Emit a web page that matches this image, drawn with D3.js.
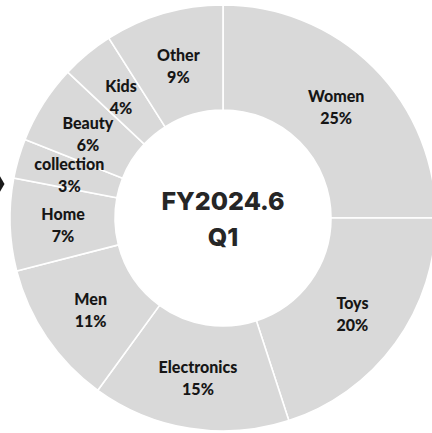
<!DOCTYPE html>
<html>
<head>
<meta charset="utf-8">
<script src="https://cdn.jsdelivr.net/npm/d3@7"></script>
<style>
  html, body { margin: 0; padding: 0; background: #ffffff; overflow: hidden; }
  svg { display: block; }
</style>
</head>
<body>
<svg id="chart" width="432" height="433"></svg>
<script>
// Category share of sales, clockwise from 12 o'clock
const categories = ["Women", "Toys", "Electronics", "Men", "Home", "collection", "Beauty", "Kids", "Other"];
const shares = [25, 20, 15, 11, 7, 3, 6, 4, 9];
const centerLines = ["FY2024.6", "Q1"];

const svg = d3.select("#chart");
const cx = 223, cy = 218;
const innerR = 108, outerR = 213;

const data = categories.map((name, i) => ({ name, value: shares[i] }));

const pie = d3.pie()
  .value(d => d.value)
  .sort(null)
  .startAngle(0)
  .endAngle(2 * Math.PI);

const arc = d3.arc().innerRadius(innerR).outerRadius(outerR);
const labelArc = d3.arc().innerRadius(160).outerRadius(160);

const g = svg.append("g").attr("transform", `translate(${cx},${cy})`);

const arcs = pie(data);

g.selectAll("path.slice")
  .data(arcs)
  .join("path")
  .attr("class", "slice")
  .attr("d", arc)
  .attr("fill", "#d9d9d9")
  .attr("stroke", "#ffffff")
  .attr("stroke-width", 1.6);

const labels = g.selectAll("text.label")
  .data(arcs)
  .join("text")
  .attr("class", "label")
  .attr("transform", d => `translate(${labelArc.centroid(d)})`)
  .attr("text-anchor", "middle")
  .attr("font-family", "Lato, 'Open Sans', sans-serif")
  .attr("font-weight", 900)
  .attr("font-size", 16)
  .attr("fill", "#161616");

labels.append("tspan")
  .attr("x", 0)
  .attr("y", -3)
  .text(d => d.data.name);

labels.append("tspan")
  .attr("x", 0)
  .attr("y", 19)
  .text(d => d.data.value + "%");

// Period title in the hole
const title = g.append("text")
  .attr("text-anchor", "middle")
  .attr("font-family", "Inter, 'DejaVu Sans', sans-serif")
  .attr("font-weight", 800)
  .attr("font-size", 25)
  .attr("fill", "#262626");

title.selectAll("tspan")
  .data(centerLines)
  .join("tspan")
  .attr("x", 0)
  .attr("y", (d, i) => -8 + i * 36)
  .text(d => d);

// Pointer marker on the left edge
svg.append("path")
  .attr("d", d3.symbol().type(d3.symbolDiamond).size(70)())
  .attr("transform", "translate(0,184)")
  .attr("fill", "#1a1a1a");
</script>
</body>
</html>
